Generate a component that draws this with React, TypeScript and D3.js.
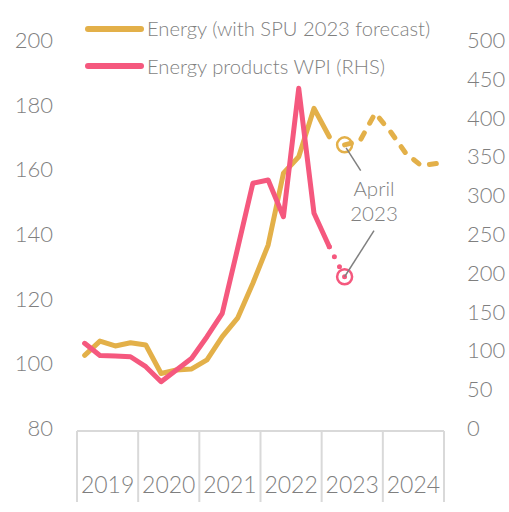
import React from 'react';
import * as d3 from 'd3';

const years = ['2019', '2020', '2021', '2022', '2023', '2024'];
const leftTicks = [80, 100, 120, 140, 160, 180, 200];
const rightTicks = [0, 50, 100, 150, 200, 250, 300, 350, 400, 450, 500];

// Quarterly, Q1 2019 .. Q1 2023 (left axis)
const energyActual = [103.4, 107.8, 106.3, 107.3, 106.6, 97.8, 98.9, 99.2, 102.0, 109.2, 114.9, 125.7, 137.5, 159.7, 164.8, 179.8, 171.0];
// Q2 2023 (April) .. Q4 2024 forecast (left axis)
const energyForecast = [168.5, 169.7, 178.3, 172.6, 165.9, 162.1, 162.7];
// Quarterly, Q1 2019 .. Q1 2023 (right axis)
const wpiActual = [113.0, 97.3, 96.7, 95.7, 82.9, 63.5, 78.6, 93.7, 121.5, 151.7, 235.0, 319.2, 323.5, 276.2, 441.6, 280.5, 237.5];
// April 2023 (right axis)
const wpiApril = 198.8;

const legendLabels = ['Energy (with SPU 2023 forecast)', 'Energy products WPI (RHS)'];
const annotation = ['April', '2023'];

const GOLD = '#E3B049';
const PINK = '#F5587E';
const TEXT = '#7f7f7f';
const AXIS = '#d9d9d9';
const FONT = 'Lato, "Noto Sans", sans-serif';

export default function App() {
  const W = 509, H = 512;
  const x = d3.scaleLinear().domain([0, years.length * 4]).range([77, 444]);
  const yL = d3.scaleLinear().domain([80, 200]).range([431, 43]);
  const yR = d3.scaleLinear().domain([0, 500]).range([431, 43]);
  const qx = (i: number) => x(i + 0.5);

  const lineL = d3.line<number>().x((d, i) => qx(i)).y(d => yL(d));
  const lineR = d3.line<number>().x((d, i) => qx(i)).y(d => yR(d));
  const startF = energyActual.length; // index of April 2023 point
  const lineF = d3.line<number>().x((d, i) => qx(i + startF)).y(d => yL(d));

  const lastW = wpiActual.length - 1;
  const dotted = d3.line<[number, number]>()([
    [qx(lastW), yR(wpiActual[lastW])],
    [qx(startF), yR(wpiApril)],
  ]);

  const goldC: [number, number] = [qx(startF), yL(energyForecast[0])];
  const pinkC: [number, number] = [qx(startF), yR(wpiApril)];

  return (
    <svg width={W} height={H} style={{ position: 'absolute', left: 0, top: 0 }} fontFamily={FONT}>
      <rect width={W} height={H} fill="#fff" />
      {/* axis */}
      <line x1={x(0)} x2={x(24)} y1={431} y2={431} stroke={AXIS} strokeWidth={2} />
      {d3.range(years.length + 1).map(i => (
        <line key={'t' + i} x1={x(i * 4)} x2={x(i * 4)} y1={431} y2={502} stroke={AXIS} strokeWidth={2} />
      ))}
      {years.map((yv, i) => (
        <text key={yv} x={x(i * 4 + 2)} y={493} textAnchor="middle" fontSize={23} fill={TEXT} fontWeight={300}>{yv}</text>
      ))}
      {leftTicks.map(t => (
        <text key={'l' + t} x={53} y={yL(t) - 3} dy="0.36em" textAnchor="end" fontSize={22} fill={TEXT} fontWeight={300}>{t}</text>
      ))}
      {rightTicks.map(t => (
        <text key={'r' + t} x={467} y={yR(t) - 3} dy="0.36em" textAnchor="start" fontSize={22} fill={TEXT} fontWeight={300}>{t}</text>
      ))}

      {/* series */}
      <path d={lineL(energyActual) || ''} fill="none" stroke={GOLD} strokeWidth={5} strokeLinejoin="round" strokeLinecap="round" />
      <path d={lineF(energyForecast) || ''} fill="none" stroke={GOLD} strokeWidth={5} strokeLinejoin="round" strokeLinecap="round" strokeDasharray="7 11" />
      <path d={lineR(wpiActual) || ''} fill="none" stroke={PINK} strokeWidth={5} strokeLinejoin="round" strokeLinecap="round" />
      <path d={dotted || ''} fill="none" stroke={PINK} strokeWidth={5} strokeLinecap="round" strokeDasharray="0 11.2" />

      {/* annotation */}
      <circle cx={goldC[0]} cy={goldC[1]} r={7.5} fill="none" stroke={GOLD} strokeWidth={2.5} />
      <circle cx={pinkC[0]} cy={pinkC[1]} r={7.5} fill="none" stroke={PINK} strokeWidth={2.5} />
      <line x1={goldC[0] + 1.5} y1={goldC[1] + 3} x2={360.7} y2={170.7} stroke="#808080" strokeWidth={1.5} />
      <line x1={374} y1={230.7} x2={pinkC[0]} y2={pinkC[1]} stroke="#808080" strokeWidth={1.5} />
      <text x={374} y={196} textAnchor="middle" fontSize={20.5} fill={TEXT} fontWeight={300}>{annotation[0]}</text>
      <text x={374} y={221} textAnchor="middle" fontSize={20.5} fill={TEXT} fontWeight={300}>{annotation[1]}</text>

      {/* legend */}
      <line x1={88} x2={141} y1={29} y2={29} stroke={GOLD} strokeWidth={6} strokeLinecap="round" />
      <line x1={88} x2={141} y1={66} y2={66} stroke={PINK} strokeWidth={6} strokeLinecap="round" />
      <text x={147} y={36} fontSize={20.2} fill={TEXT} fontWeight={300}>{legendLabels[0]}</text>
      <text x={147} y={74} fontSize={20.2} fill={TEXT} fontWeight={300}>{legendLabels[1]}</text>
    </svg>
  );
}
